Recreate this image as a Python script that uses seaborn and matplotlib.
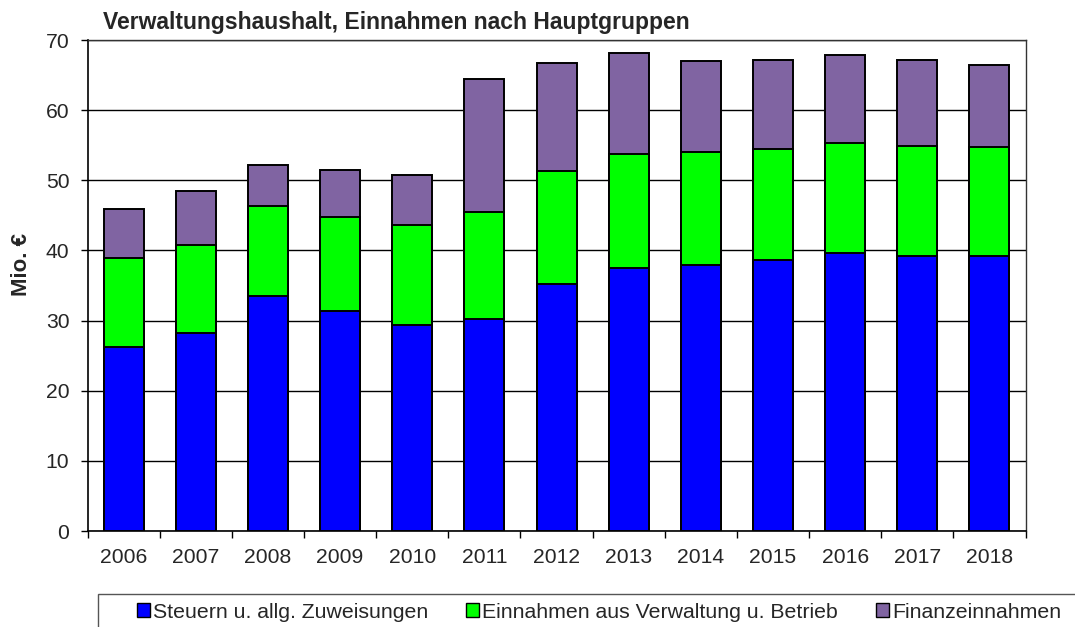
import matplotlib
matplotlib.use("Agg")
import pandas as pd
import seaborn as sns
from matplotlib import pyplot as plt
from matplotlib.patches import Patch, Rectangle

years = [2006, 2007, 2008, 2009, 2010, 2011, 2012, 2013, 2014, 2015, 2016, 2017, 2018]
steuern = [26.2, 28.3, 33.5, 31.4, 29.3, 30.2, 35.2, 37.5, 37.9, 38.6, 39.6, 39.2, 39.2]
verwaltung = [12.7, 12.5, 12.8, 13.4, 14.3, 15.3, 16.1, 16.2, 16.2, 15.8, 15.7, 15.7, 15.5]
finanz = [7.0, 7.7, 5.9, 6.7, 7.2, 18.9, 15.4, 14.5, 12.9, 12.7, 12.6, 12.2, 11.8]

labels = ["Steuern u. allg. Zuweisungen", "Einnahmen aus Verwaltung u. Betrieb", "Finanzeinnahmen"]
colors = ["#0000FF", "#00FF00", "#8064A2"]

df = pd.DataFrame({"Jahr": [str(y) for y in years], "s": steuern, "v": verwaltung, "f": finanz})
df["sv"] = df["s"] + df["v"]
df["total"] = df["sv"] + df["f"]

sns.set_style("white")
plt.rcParams["font.family"] = ["Liberation Sans", "DejaVu Sans"]

fig = plt.figure(figsize=(10.75, 6.27), dpi=100)
ax = fig.add_axes([0.0814, 0.1531, 0.8726, 0.7831])

ax.yaxis.grid(True, color="black", linewidth=1)
ax.set_axisbelow(True)

# stacked bars: draw cumulative totals from back to front
for col, c in zip(["total", "sv", "s"], colors[::-1]):
    sns.barplot(data=df, x="Jahr", y=col, color=c, width=0.555,
                edgecolor="black", linewidth=1.4, saturation=1, ax=ax, zorder=3)

ax.set_ylim(0, 70)
ax.set_xlim(-0.5, len(years) - 0.5)
ax.set_yticks(range(0, 71, 10))
ax.set_xlabel("")
ax.set_ylabel("Mio. €", fontsize=16, fontweight="bold")
ax.yaxis.set_label_coords(-0.059, 0.543)

ax.tick_params(axis="y", length=5, width=1, pad=8, labelsize=15.2, left=True, color="black")
ax.tick_params(axis="x", which="major", length=0, pad=12, labelsize=15.2)
ax.set_xticks([i - 0.5 for i in range(len(years) + 1)], minor=True)
ax.tick_params(axis="x", which="minor", length=5, width=1, bottom=True, color="black")

for side in ["left", "bottom"]:
    ax.spines[side].set_color("black")
    ax.spines[side].set_linewidth(1.2)
for side in ["top", "right"]:
    ax.spines[side].set_color("#333333")
    ax.spines[side].set_linewidth(1)

fig.text(103 / 1075, 1 - 29 / 627, "Verwaltungshaushalt, Einnahmen nach Hauptgruppen",
         fontsize=16.5, fontweight="bold", ha="left", va="baseline")

handles = [Patch(facecolor=c, edgecolor="black", linewidth=1) for c in colors]
fig.legend(handles, labels, loc="center left", bbox_to_anchor=(137 / 1075, 1 - 612 / 627),
           ncol=3, frameon=False, fontsize=15.3, handlelength=0.6, handleheight=0.6,
           handletextpad=0.15, columnspacing=1.8, borderaxespad=0, borderpad=0)
fig.patches.append(Rectangle((98 / 1075, -0.1), 1.0, 0.1 + 1 - 594 / 627, transform=fig.transFigure,
                             fill=False, edgecolor="#555555", linewidth=1))

fig.savefig("out.png", dpi=100)
